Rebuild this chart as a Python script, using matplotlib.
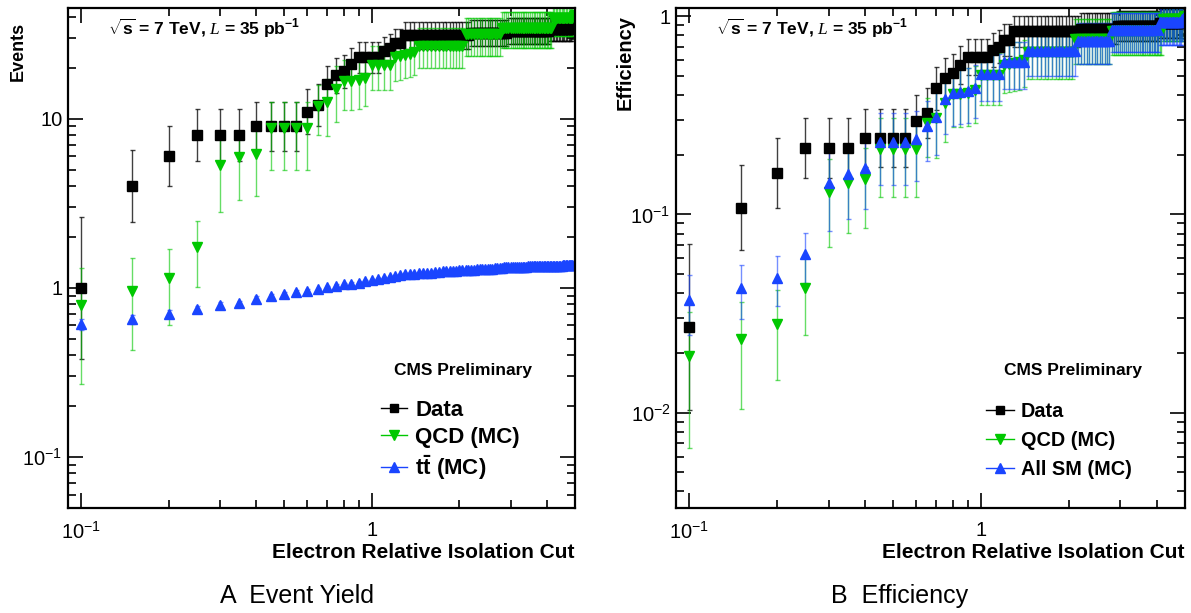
import numpy as np
import matplotlib
matplotlib.use("Agg")
import matplotlib.pyplot as plt
from matplotlib.lines import Line2D
from matplotlib.ticker import FixedLocator, FixedFormatter, NullFormatter

plt.rcParams['font.family'] = ['Liberation Sans', 'DejaVu Sans']
plt.rcParams['mathtext.fontset'] = 'custom'
plt.rcParams['mathtext.rm'] = 'Liberation Sans'
plt.rcParams['mathtext.bf'] = 'Liberation Sans:bold'
plt.rcParams['mathtext.it'] = 'Liberation Serif:italic'
plt.rcParams['mathtext.default'] = 'regular'

# isolation cut scan points 0.10 ... 5.00
cut = np.round(np.arange(0.10, 5.0001, 0.05), 2)

# --- event yield (left) ---
data_yield = np.array([1, 4, 6, 8, 8, 8, 9, 9, 9, 9,
                       11, 12, 16, 18, 19, 21] + [23] * 4 +
                      [25, 26, 28, 28] + [31] * 18 + [32] * 15 +
                      [33] * 23 + [34] * 16 + [35, 36, 37], dtype=float)

qcd_yield = np.array([0.79, 0.96, 1.15, 1.75, 5.3, 5.9, 6.2] + [8.8] * 4 +
                     [11.9, 12.5, 15.0, 16.7, 16.7, 16.9, 17.4] + [20.8] * 4 +
                     [23.2, 23.5, 23.8, 24.0, 24.6] + [27.0] * 13 +
                     [31.5] * 14 + [34.5] * 28 + [39.5] * 15 + [40.5, 41.0])
qcd_err = np.array([0.52, 0.53, 0.55, 0.74, 2.5, 2.6, 2.7] + [3.8] * 4 +
                   [3.9, 4.6, 5.5, 5.4, 5.4, 5.5, 5.5] + [6.1] * 4 +
                   [6.5] * 5 + [7.2] * 13 + [8.0] * 14 + [8.4] * 28 +
                   [8.8] * 15 + [9.0, 9.0])

ttbar_yield = np.array([0.61, 0.65, 0.70, 0.75, 0.79, 0.81, 0.86, 0.90, 0.92, 0.94,
                        0.96, 0.98, 1.01, 1.03, 1.05, 1.06, 1.07, 1.09, 1.11, 1.13,
                        1.15, 1.16, 1.18, 1.19, 1.20, 1.21, 1.21, 1.22, 1.22, 1.23,
                        1.23, 1.24, 1.24, 1.25, 1.25, 1.26, 1.26, 1.26, 1.27,
                        1.27, 1.27, 1.28, 1.28, 1.28, 1.29, 1.29, 1.29, 1.30, 1.30,
                        1.30, 1.30, 1.31, 1.31, 1.31, 1.31, 1.32, 1.32, 1.32, 1.32,
                        1.32, 1.32, 1.33, 1.33, 1.33, 1.33, 1.33, 1.33, 1.34, 1.34,
                        1.34, 1.34, 1.34, 1.34, 1.34, 1.34, 1.35, 1.35, 1.35, 1.35] +
                       [1.35] * 10 + [1.36] * 10)
ttbar_err = np.array([0.045, 0.04, 0.035, 0.035, 0.03, 0.03, 0.03, 0.025, 0.025, 0.025] +
                     [0.02] * 10 + [0.015] * 79)

# --- efficiency (right) ---
data_eff = np.array([0.027, 0.108, 0.162, 0.216, 0.216, 0.216] + [0.243] * 4 +
                    [0.297, 0.324, 0.432, 0.486, 0.514, 0.568] + [0.622] * 4 +
                    [0.676, 0.703, 0.757, 0.757] + [0.838] * 18 + [0.865] * 15 +
                    [0.892] * 23 + [0.919] * 16 + [0.946, 0.973, 1.0])

qcd_eff = np.array([0.0193, 0.0234, 0.028, 0.0427, 0.129, 0.144, 0.151] + [0.215] * 4 +
                   [0.29, 0.305, 0.366, 0.407, 0.407, 0.412, 0.424] + [0.507] * 4 +
                   [0.566, 0.573, 0.58, 0.585, 0.6] + [0.659] * 13 + [0.768] * 14 +
                   [0.841] * 28 + [0.963] * 15 + [0.988, 1.0])

allsm_eff = np.array([0.037, 0.0425, 0.048, 0.063, 0.144, 0.159, 0.172, 0.232, 0.232, 0.232,
                      0.24, 0.28, 0.31, 0.38, 0.41, 0.415, 0.42, 0.435] + [0.51] * 4 +
                     [0.585] * 5 + [0.67] * 14 + [0.75] * 13 + [0.85] * 26 +
                     [0.93] * 16 + [0.97, 0.99, 1.0])
allsm_err = np.array([0.0125, 0.013, 0.0135, 0.018, 0.062, 0.064, 0.066, 0.092, 0.092, 0.092,
                      0.092, 0.094, 0.11, 0.125, 0.13, 0.13, 0.13, 0.13] + [0.135] * 4 +
                     [0.155] * 5 + [0.17] * 14 + [0.178] * 13 + [0.19] * 26 +
                     [0.215] * 16 + [0.22] * 3)

# Poisson-style asymmetric errors on the observed counts
root = np.sqrt(data_yield + 0.25)
data_lo = data_yield - (root - 0.5) ** 2
data_hi = (root + 0.5) ** 2 - data_yield
# efficiencies carry the same relative errors as the counts
data_eff_lo = data_eff * data_lo / data_yield
data_eff_hi = data_eff * data_hi / data_yield
qcd_eff_err = qcd_eff * qcd_err / qcd_yield

BLACK = 'black'
GREEN = '#00c800'
BLUE = '#1a45ff'

fig = plt.figure(figsize=(11.91, 6.13), dpi=100)
axL = fig.add_axes([68 / 1191, 105 / 613, 507 / 1191, 500 / 613])
axR = fig.add_axes([676 / 1191, 105 / 613, 509 / 1191, 500 / 613])


def style_axes(ax, ylo, yhi, ymajor, ylabels, ylab, ylab_x, ylab_y, ylab_size):
    ax.set_xscale('log')
    ax.set_yscale('log')
    ax.set_xlim(0.09, 5.0)
    ax.set_ylim(ylo, yhi)
    ax.xaxis.set_major_locator(FixedLocator([0.1, 1.0]))
    ax.xaxis.set_major_formatter(FixedFormatter([r'$10^{-1}$', '1']))
    ax.xaxis.set_minor_locator(FixedLocator([0.2, 0.3, 0.4, 0.5, 0.6, 0.7, 0.8, 0.9, 2, 3, 4, 5]))
    ax.xaxis.set_minor_formatter(NullFormatter())
    ax.yaxis.set_major_locator(FixedLocator(ymajor))
    ax.yaxis.set_major_formatter(FixedFormatter(ylabels))
    ax.yaxis.set_minor_locator(FixedLocator(
        [m * 10.0 ** e for e in range(-3, 2) for m in range(2, 10)]))
    ax.yaxis.set_minor_formatter(NullFormatter())
    ax.tick_params(which='both', direction='in', top=True, right=True,
                   labelsize=14.5, width=1.2)
    ax.tick_params(which='major', length=11)
    ax.tick_params(which='minor', length=6)
    ax.tick_params(axis='x', pad=9)
    ax.tick_params(axis='y', pad=4)
    for s in ax.spines.values():
        s.set_linewidth(1.6)
    ax.text(1.0, -0.09, 'Electron Relative Isolation Cut', transform=ax.transAxes,
            ha='right', va='center', fontsize=15, fontweight='bold')
    ax.text(ylab_x, ylab_y, ylab, transform=ax.transAxes, rotation=90,
            ha='center', va='top', fontsize=ylab_size, fontweight='bold')
    ax.text(0.079, 0.96, r'$\sqrt{\mathbf{s}}$ = 7 TeV, $\mathit{L}$ = 35 pb$^{\mathbf{-1}}$',
            transform=ax.transAxes, ha='left', va='center', fontsize=12.5,
            fontweight='bold')
    ax.text(0.78, 0.276, 'CMS Preliminary', transform=ax.transAxes,
            ha='center', va='center', fontsize=12.5, fontweight='bold')


ekw = dict(linestyle='none', capsize=1.8, elinewidth=1.0, capthick=1.0)

# left: event yield
axL.errorbar(cut, data_yield, yerr=[data_lo, data_hi], fmt='s', color=BLACK,
             ms=6.5, ecolor=(0, 0, 0, 0.75), **ekw)
axL.errorbar(cut, qcd_yield, yerr=qcd_err, fmt='v', color=GREEN, ms=7,
             ecolor=(0, 0.78, 0, 0.6), **ekw)
axL.errorbar(cut, ttbar_yield, yerr=ttbar_err, fmt='^', color=BLUE, ms=7,
             ecolor=(0.1, 0.27, 1, 0.6), **ekw)
style_axes(axL, 0.05, 45, [0.1, 1, 10], [r'$10^{-1}$', '1', '10'],
           'Events', -0.099, 0.972, 13)

hL = [Line2D([], [], color=BLACK, marker='s', ms=6, lw=1),
      Line2D([], [], color=GREEN, marker='v', ms=6.5, lw=1),
      Line2D([], [], color=BLUE, marker='^', ms=6.5, lw=1)]
axL.legend(hL, ['Data', 'QCD (MC)', r'$\mathbf{t\bar{t}}$ (MC)'],
           loc='upper left', bbox_to_anchor=(0.595, 0.238), frameon=False,
           prop=dict(size=16, weight='bold'), handlelength=1.2,
           handletextpad=0.35, labelspacing=0.25, borderpad=0)

# right: efficiency
axR.errorbar(cut, data_eff, yerr=[data_eff_lo, data_eff_hi], fmt='s', color=BLACK,
             ms=6.5, ecolor=(0, 0, 0, 0.75), **ekw)
axR.errorbar(cut, qcd_eff, yerr=qcd_eff_err, fmt='v', color=GREEN, ms=7,
             ecolor=(0, 0.78, 0, 0.6), **ekw)
axR.errorbar(cut, allsm_eff, yerr=allsm_err, fmt='^', color=BLUE, ms=7,
             ecolor=(0.1, 0.27, 1, 0.6), **ekw)
style_axes(axR, 0.0033, 1.1, [0.01, 0.1, 1], [r'$10^{-2}$', r'$10^{-1}$', '1'],
           'Efficiency', -0.1, 0.986, 14.5)

hR = [Line2D([], [], color=BLACK, marker='s', ms=6, lw=1),
      Line2D([], [], color=GREEN, marker='v', ms=6.5, lw=1),
      Line2D([], [], color=BLUE, marker='^', ms=6.5, lw=1)]
axR.legend(hR, ['Data', 'QCD (MC)', 'All SM (MC)'],
           loc='upper left', bbox_to_anchor=(0.59, 0.232), frameon=False,
           prop=dict(size=14.3, weight='bold'), handlelength=1.4,
           handletextpad=0.35, labelspacing=0.5, borderpad=0)

fig.text(297 / 1191, 1 - 596 / 613, 'A  Event Yield', ha='center', va='center', fontsize=18)
fig.text(900 / 1191, 1 - 596 / 613, 'B  Efficiency', ha='center', va='center', fontsize=18)

fig.savefig('out.png', dpi=100)
